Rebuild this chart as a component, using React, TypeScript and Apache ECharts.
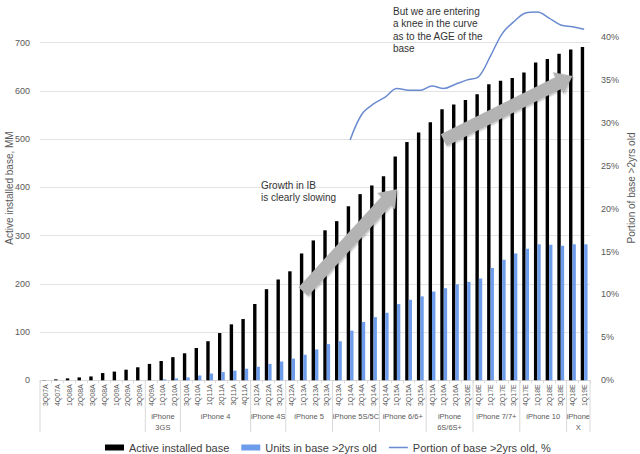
import { useEffect, useRef } from 'react'
import * as echarts from 'echarts'

const FONT = '"Liberation Sans", Arial, Helvetica, sans-serif'
const TEXT = '#595959'

// quarters on the x axis
const categories = [
  '3Q07A', '4Q07A', '1Q08A', '2Q08A', '3Q08A', '4Q08A', '1Q09A', '2Q09A', '3Q09A',
  '4Q09A', '1Q10A', '2Q10A',
  '3Q10A', '4Q10A', '1Q11A', '2Q11A', '3Q11A', '4Q11A',
  '1Q12A', '2Q12A', '3Q12A',
  '4Q12A', '1Q13A', '2Q13A', '3Q13A',
  '4Q13A', '1Q14A', '2Q14A', '3Q14A',
  '4Q14A', '1Q15A', '2Q15A', '3Q15A',
  '4Q15A', '1Q16A', '2Q16A', '3Q16E',
  '4Q16E', '1Q17E', '2Q17E', '3Q17E',
  '4Q17E', '1Q18E', '2Q18E', '3Q18E',
  '4Q18E', '1Q19E',
]

// second level of the axis: product cycles
const groupNames = ['', 'iPhone\n3GS', 'iPhone 4', 'iPhone 4S', 'iPhone 5', 'iPhone 5S/5C', 'iPhone 6/6+', 'iPhone\n6S/6S+', 'iPhone 7/7+', 'iPhone 10', 'iPhone\nX']
const groupSizes = [9, 3, 6, 3, 4, 4, 4, 4, 4, 4, 2]

// active installed base, MM
const activeBase = [
  0.5, 2, 4, 6, 8, 15, 18, 22, 27,
  34, 40, 48,
  56, 67, 81, 98, 116, 127,
  158, 189, 209,
  226, 263, 290, 311,
  330, 361, 386, 404,
  423, 464, 494, 514,
  535, 562, 572, 581,
  593, 614, 621, 627,
  638, 659, 666, 677,
  686, 691,
]

// units in base older than 2 years, MM
const oldUnits = [
  0, 0, 0, 0, 0, 0, 0, 0, 0,
  0, 2, 4,
  6, 10, 14, 17, 20, 24,
  28, 34, 39,
  45, 53, 64, 75,
  81, 103, 121, 131,
  140, 158, 167, 174,
  184, 191, 199, 204,
  211, 233, 250, 263,
  273, 282, 281, 279,
  282, 282,
]

// portion of base older than 2 years, %
const oldShare = [
  null, null, null, null, null, null, null, null, null,
  null, null, null,
  null, null, null, null, null, null,
  null, null, null,
  null, null, null, null,
  null, 28.0, 31.0, 32.2,
  33.0, 34.0, 33.8, 33.8,
  34.3, 34.0, 34.5, 35.0,
  35.4, 37.8, 40.4, 41.8,
  42.8, 42.9, 42.2, 41.4,
  41.2, 40.9,
]

const leftTicks = { min: 0, max: 700, interval: 100 }
const rightTicks = { min: 0, max: 40, interval: 5 }

// annotation arrows in data space: [category index, value]
const arrows = [
  { from: [21.9, 184], to: [30.4, 396] },
  { from: [33.9, 498], to: [44.8, 631] },
]

function arrowPoints(a: number[], b: number[]) {
  const dx = b[0] - a[0]
  const dy = b[1] - a[1]
  const len = Math.hypot(dx, dy)
  const ux = dx / len, uy = dy / len
  const nx = -uy, ny = ux
  const w = 6.5, h = 12, L = 16
  const bx = b[0] - ux * L, by = b[1] - uy * L
  return [
    [a[0] + nx * w, a[1] + ny * w],
    [bx + nx * w, by + ny * w],
    [bx + nx * h, by + ny * h],
    [b[0], b[1]],
    [bx - nx * h, by - ny * h],
    [bx - nx * w, by - ny * w],
    [a[0] - nx * w, a[1] - ny * w],
  ]
}

export default function App() {
  const chartRef = useRef<HTMLDivElement>(null)

  useEffect(() => {
    if (!chartRef.current) return
    const chart = echarts.init(chartRef.current, null, { renderer: 'svg' })

    chart.setOption({
      animation: false,
      textStyle: { fontFamily: FONT },
      // the % axis runs a little taller than the MM axis, as in the source
      grid: [
        { left: 40, right: 50, top: 42.7, bottom: 73.7, containLabel: false, outerBoundsMode: 'none' },
        { left: 40, right: 50, top: 37, bottom: 73.7, containLabel: false, outerBoundsMode: 'none' },
      ],
      legend: {
        left: 100,
        top: 437,
        itemWidth: 19,
        itemHeight: 6,
        itemGap: 12,
        textStyle: { color: '#404040', fontSize: 11, fontFamily: FONT },
        data: [
          { name: 'Active installed base', icon: 'rect' },
          { name: 'Units in base >2yrs old', icon: 'rect' },
          { name: 'Portion of base >2yrs old, %', icon: 'path://M0,0 H20 V1.6 H0 Z' },
        ],
      },
      xAxis: [
        {
          type: 'category',
          gridIndex: 0,
          data: categories,
          axisLine: { lineStyle: { color: '#d9d9d9', width: 1 } },
          axisTick: { show: true, interval: 0, length: 3, lineStyle: { color: '#d9d9d9' } },
          axisLabel: { interval: 0, rotate: 90, fontSize: 7, color: TEXT, margin: 4, fontFamily: FONT },
          splitLine: { show: false },
        },
        {
          type: 'category',
          gridIndex: 1,
          data: categories,
          show: false,
        },
      ],
      yAxis: [
        {
          type: 'value',
          gridIndex: 0,
          ...leftTicks,
          axisLine: { show: false },
          axisTick: { show: false },
          axisLabel: { fontSize: 9, color: TEXT, margin: 10, fontFamily: FONT },
          splitLine: { lineStyle: { color: '#e3e3e3', width: 1 } },
        },
        {
          type: 'value',
          gridIndex: 1,
          position: 'right',
          ...rightTicks,
          axisLine: { show: false },
          axisTick: { show: false },
          axisLabel: { fontSize: 9, color: TEXT, margin: 11, formatter: '{value}%', fontFamily: FONT },
          splitLine: { show: false },
        },
      ],
      series: [
        {
          name: 'Active installed base',
          type: 'bar',
          data: activeBase,
          barWidth: 3.4,
          barGap: '0%',
          itemStyle: { color: '#000000' },
        },
        {
          name: 'Units in base >2yrs old',
          type: 'bar',
          data: oldUnits,
          barWidth: 3.4,
          barGap: '0%',
          itemStyle: { color: '#6d9cea' },
        },
        {
          name: 'Portion of base >2yrs old, %',
          type: 'line',
          xAxisIndex: 1,
          yAxisIndex: 1,
          data: oldShare,
          symbol: 'none',
          smooth: 0.35,
          clip: false,
          connectNulls: false,
          lineStyle: { color: '#6a8bd0', width: 1.5 },
          itemStyle: { color: '#6a8bd0' },
          z: 5,
        },
      ],
    })

    // second-level axis boxes, placed through the category scale
    const px = (i: number) => chart.convertToPixel({ xAxisIndex: 0 }, i) as number
    const band = px(1) - px(0)
    const axisY = chart.convertToPixel({ yAxisIndex: 0 }, 0) as number
    const graphics: any[] = []
    let start = 0
    groupSizes.forEach((size, g) => {
      const x0 = px(start) - band / 2
      graphics.push({
        type: 'line',
        shape: { x1: x0, y1: axisY, x2: x0, y2: axisY + 52 },
        style: { stroke: '#d9d9d9', lineWidth: 1 },
        silent: true,
      })
      if (groupNames[g]) {
        graphics.push({
          type: 'text',
          x: (px(start) + px(start + size - 1)) / 2,
          y: axisY + 31,
          style: {
            text: groupNames[g],
            fontSize: 7.5,
            fontFamily: FONT,
            fill: TEXT,
            align: 'center',
            verticalAlign: 'top',
            lineHeight: 11,
          },
          silent: true,
        })
      }
      start += size
    })
    const xEnd = px(categories.length - 1) + band / 2
    graphics.push({
      type: 'line',
      shape: { x1: xEnd, y1: axisY, x2: xEnd, y2: axisY + 52 },
      style: { stroke: '#d9d9d9', lineWidth: 1 },
      silent: true,
    })

    // axis titles
    graphics.push({
      type: 'text',
      x: 9,
      y: 188,
      rotation: Math.PI / 2,
      style: { text: 'Active installed base, MM', fontSize: 10, fontFamily: FONT, fill: TEXT, align: 'center', verticalAlign: 'middle' },
      silent: true,
    })
    graphics.push({
      type: 'text',
      x: 631,
      y: 188,
      rotation: Math.PI / 2,
      style: { text: 'Portion of base >2yrs old', fontSize: 10, fontFamily: FONT, fill: TEXT, align: 'center', verticalAlign: 'middle' },
      silent: true,
    })

    // arrows
    arrows.forEach((a) => {
      const p0 = chart.convertToPixel({ gridIndex: 0 }, a.from) as number[]
      const p1 = chart.convertToPixel({ gridIndex: 0 }, a.to) as number[]
      graphics.push({
        type: 'polygon',
        shape: { points: arrowPoints(p0, p1) },
        style: {
          fill: '#b3b3b3',
          shadowBlur: 2,
          shadowColor: 'rgba(0,0,0,0.3)',
          shadowOffsetX: 1,
          shadowOffsetY: 1,
        },
        z: 10,
        silent: true,
      })
    })

    // notes
    graphics.push({
      type: 'text',
      x: 261,
      y: 179,
      style: { text: 'Growth in IB\nis clearly slowing', fontSize: 10, lineHeight: 12.5, fontFamily: FONT, fill: '#333333' },
      z: 11,
      silent: true,
    })
    graphics.push({
      type: 'text',
      x: 393,
      y: 5,
      style: { text: 'But we are entering\na knee in the curve\nas to the AGE of the\nbase', fontSize: 10, lineHeight: 12.5, fontFamily: FONT, fill: '#333333' },
      z: 11,
      silent: true,
    })

    chart.setOption({ graphic: graphics })

    return () => {
      chart.dispose()
    }
  }, [])

  return (
    <div
      ref={chartRef}
      style={{ position: 'fixed', left: 0, top: 0, width: 640, height: 454, background: '#ffffff' }}
    />
  )
}
